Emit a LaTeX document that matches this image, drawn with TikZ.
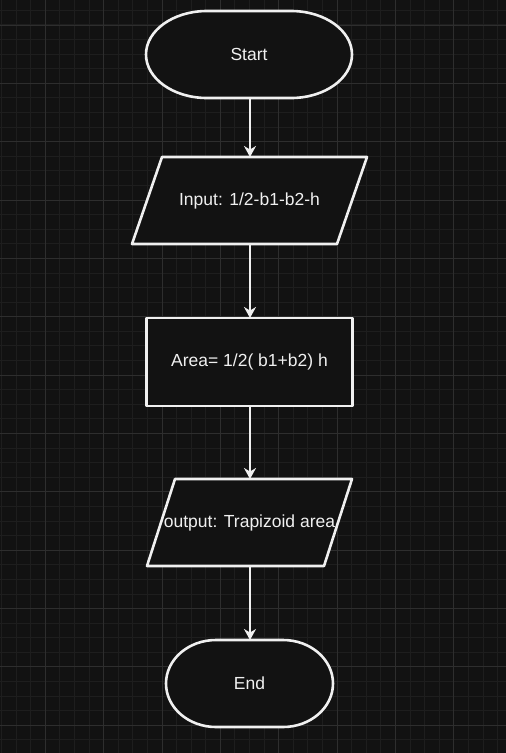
\documentclass[tikz,border=0pt]{standalone}
\usepackage{fontspec}
\setmainfont{Liberation Sans}
\usetikzlibrary{arrows.meta}
\definecolor{bg}{HTML}{121212}
\definecolor{gridminor}{HTML}{1E1E1E}
\definecolor{gridmajor}{HTML}{2E2E2E}
\definecolor{ink}{HTML}{F0F0F0}
\definecolor{boxfill}{HTML}{121212}
\tikzset{
  txt/.style={inner sep=0pt, outer sep=0pt, text=ink, font=\fontsize{17.5}{21}\selectfont},
  shapeline/.style={draw=ink, fill=boxfill, line width=2.6pt, line join=round},
  arr/.style={draw=ink, line width=1.6pt, -{Stealth[length=11pt,width=12pt,inset=3.5pt]}},
  minorline/.style={draw=gridminor, line width=1pt},
  majorline/.style={draw=gridmajor, line width=1pt}
}
\begin{document}
\begin{tikzpicture}[x=1pt,y=-1pt]
\fill[bg] (0,0) rectangle (506,753);
\useasboundingbox (0,0) rectangle (506,753);
% grid
\foreach \i in {0,...,34} {\draw[minorline] (1.53+\i*14.59,0) -- (1.53+\i*14.59,753);}
\foreach \j in {0,...,51} {\draw[minorline] (0,10.4+\j*14.59) -- (506,10.4+\j*14.59);}
\foreach \i in {0,...,8} {\draw[majorline] (45.3+\i*58.36,0) -- (45.3+\i*58.36,753);}
\foreach \j in {0,...,12} {\draw[majorline] (0,25+\j*58.36) -- (506,25+\j*58.36);}
% Start terminator
\node[txt, minimum width=206pt, minimum height=87pt] (start) at (249,54.5) {};
\draw[shapeline] (146+61,11) -- (352-61,11) arc[start angle=-90,end angle=90,x radius=61,y radius=43.5]
  -- (146+61,98) arc[start angle=90,end angle=270,x radius=61,y radius=43.5] -- cycle;
\node[txt] at (start) {Start};
% Input parallelogram
\node[txt, minimum width=205pt, minimum height=87pt] (in) at (249.5,200.5) {};
\draw[shapeline] ([xshift=15pt]in.north west) -- ([xshift=15pt]in.north east)
  -- ([xshift=-15pt]in.south east) -- ([xshift=-15pt]in.south west) -- cycle;
\node[txt] at (in) {Input: 1/2-b1-b2-h};
% Process
\node[txt, shapeline, minimum width=206pt, minimum height=88pt] (proc) at (249.5,362) {Area= 1/2( b1+b2) h};
% Output parallelogram
\node[txt, minimum width=177pt, minimum height=87pt] (out) at (249.5,522.5) {};
\draw[shapeline] ([xshift=14pt]out.north west) -- ([xshift=14pt]out.north east)
  -- ([xshift=-14pt]out.south east) -- ([xshift=-14pt]out.south west) -- cycle;
\node[txt] at (out) {output: Trapizoid area};
% End terminator
\node[txt, minimum width=167pt, minimum height=87pt] (end) at (249.5,683.5) {};
\draw[shapeline] (166+50,640) -- (333-50,640) arc[start angle=-90,end angle=90,x radius=50,y radius=43.5]
  -- (166+50,727) arc[start angle=90,end angle=270,x radius=50,y radius=43.5] -- cycle;
\node[txt] at (end) {End};
% connectors
\draw[arr] (start.south -| 250,0) -- (in.north -| 250,0);
\draw[arr] (in.south -| 250,0) -- (proc.north -| 250,0);
\draw[arr] (proc.south -| 250,0) -- (out.north -| 250,0);
\draw[arr] (out.south -| 250,0) -- (end.north -| 250,0);
\end{tikzpicture}
\end{document}
